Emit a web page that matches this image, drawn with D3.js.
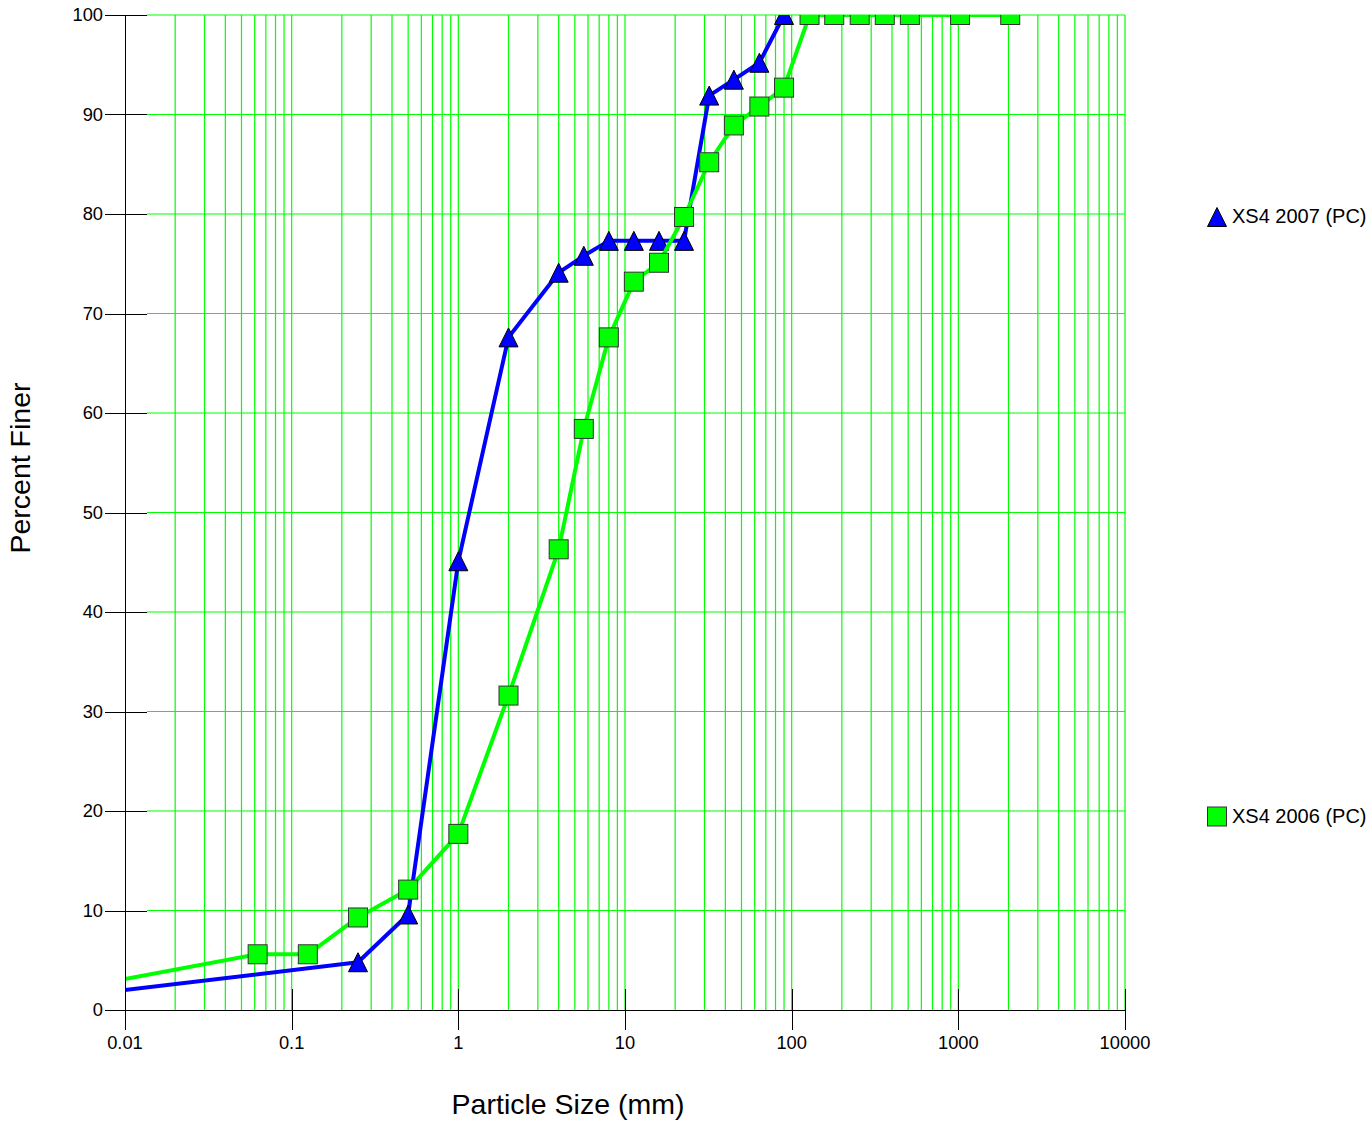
<!DOCTYPE html>
<html><head><meta charset="utf-8">
<script src="https://cdn.jsdelivr.net/npm/d3@7"></script>
<style>body{margin:0;background:#fff}svg{display:block}text{font-family:Arial,"Liberation Sans",sans-serif}</style>
</head><body>
<script>
const sizes2007 = [0.001, 0.25, 0.5, 1, 2, 4, 5.66, 8, 11.3, 16, 22.6, 32, 45, 64, 90];
const finer2007 = [0, 4.8, 9.6, 45.1, 67.6, 74.1, 75.8, 77.3, 77.3, 77.3, 77.3, 91.9, 93.5, 95.2, 100];
const sizes2006 = [0.001, 0.0625, 0.125, 0.25, 0.5, 1, 2, 4, 5.66, 8, 11.3, 16, 22.6, 32, 45, 64, 90, 128, 180, 256, 362, 512, 1024, 2048];
const finer2006 = [0, 5.6, 5.6, 9.3, 12.1, 17.7, 31.6, 46.3, 58.4, 67.6, 73.2, 75.1, 79.7, 85.2, 88.9, 90.8, 92.7, 100, 100, 100, 100, 100, 100, 100];
const xTickValues = [0.01, 0.1, 1, 10, 100, 1000, 10000];
const xTickLabels = ["0.01", "0.1", "1", "10", "100", "1000", "10000"];
const yTickValues = [0, 10, 20, 30, 40, 50, 60, 70, 80, 90, 100];
const seriesNames = ["XS4 2007 (PC)", "XS4 2006 (PC)"];

const W = 1372, H = 1131;
const L = 125, R = 1125, T = 15, B = 1010;
const svg = d3.select("body").append("svg").attr("width", W).attr("height", H);
const x = d3.scaleLog().domain([0.01, 10000]).range([L, R]);
const y = d3.scaleLinear().domain([0, 100]).range([B, T]);
const GREEN = "#00ff00";

svg.append("defs").append("clipPath").attr("id", "clip")
  .append("rect").attr("x", L).attr("y", T).attr("width", R - L).attr("height", B - T);

// grid
const minors = [];
for (let e = -2; e < 4; e++) for (let m = 1; m <= 9; m++) minors.push(m * Math.pow(10, e));
minors.push(10000);
const grid = svg.append("g");
grid.selectAll("line.v").data(minors.filter(v => v > 0.0100001)).enter().append("line").attr("class", "v")
  .attr("x1", d => x(d)).attr("x2", d => x(d))
  .attr("y1", T).attr("y2", B).attr("stroke", GREEN).attr("stroke-width", 1.2);
grid.selectAll("line.h").data(yTickValues.filter(v => v > 0)).enter().append("line").attr("class", "h")
  .attr("x1", L + 22).attr("x2", R).attr("y1", d => y(d)).attr("y2", d => y(d))
  .attr("stroke", GREEN).attr("stroke-width", 1.2);

// series
const line = d3.line().x(d => x(d[0])).y(d => y(d[1]));
const plot = svg.append("g").attr("clip-path", "url(#clip)");
const d07 = sizes2007.map((s, i) => [s, finer2007[i]]);
const d06 = sizes2006.map((s, i) => [s, finer2006[i]]);
plot.append("path").datum(d07).attr("d", line).attr("fill", "none").attr("stroke", "#0000ff").attr("stroke-width", 4).attr("stroke-linejoin", "round");
const tri = (cx, cy) => `M${cx},${cy - 9.5}L${cx + 9.5},${cy + 9.5}L${cx - 9.5},${cy + 9.5}Z`;
plot.selectAll("path.tri").data(d07).enter().append("path").attr("class", "tri")
  .attr("d", d => tri(x(d[0]), y(d[1]))).attr("fill", "#0000ff").attr("stroke", "#000").attr("stroke-width", 1);
plot.append("path").datum(d06).attr("d", line).attr("fill", "none").attr("stroke", GREEN).attr("stroke-width", 4).attr("stroke-linejoin", "round");
plot.selectAll("rect.sq").data(d06).enter().append("rect").attr("class", "sq")
  .attr("x", d => x(d[0]) - 9.5).attr("y", d => y(d[1]) - 9.5).attr("width", 19).attr("height", 19)
  .attr("fill", GREEN).attr("stroke", "#333").attr("stroke-width", 1);

// axes
const ax = svg.append("g").attr("shape-rendering", "crispEdges");
ax.append("line").attr("x1", L + 0.5).attr("x2", L + 0.5).attr("y1", T).attr("y2", B).attr("stroke", "#000");
ax.append("line").attr("x1", L).attr("x2", R).attr("y1", B + 0.5).attr("y2", B + 0.5).attr("stroke", "#000");
ax.selectAll("line.yt").data(yTickValues).enter().append("line").attr("class", "yt")
  .attr("x1", L - 20).attr("x2", L + 22).attr("y1", d => Math.round(y(d)) + 0.5).attr("y2", d => Math.round(y(d)) + 0.5).attr("stroke", "#000");
ax.selectAll("line.xt").data(xTickValues).enter().append("line").attr("class", "xt")
  .attr("x1", d => Math.round(x(d)) + 0.5).attr("x2", d => Math.round(x(d)) + 0.5).attr("y1", B - 21).attr("y2", B + 20).attr("stroke", "#000");
const lab = svg.append("g");
lab.selectAll("text.yl").data(yTickValues).enter().append("text").attr("class", "yl")
  .attr("x", L - 22).attr("y", d => y(d) + 6).attr("text-anchor", "end").attr("font-size", 18.3).attr("fill", "#000").text(d => d);
lab.selectAll("text.xl").data(xTickValues).enter().append("text").attr("class", "xl")
  .attr("x", d => x(d)).attr("y", B + 39).attr("text-anchor", "middle").attr("font-size", 18.3).attr("fill", "#000")
  .text((d, i) => xTickLabels[i]);

// axis titles
svg.append("text").attr("x", 568).attr("y", 1114).attr("text-anchor", "middle").attr("font-size", 28.5).text("Particle Size (mm)");
svg.append("text").attr("transform", "translate(30,468) rotate(-90)").attr("text-anchor", "middle").attr("font-size", 28.5).text("Percent Finer");

// legend
const lg = svg.append("g");
lg.append("path").attr("d", tri(1217, 217)).attr("fill", "#0000ff").attr("stroke", "#000");
lg.append("text").attr("x", 1232).attr("y", 223).attr("font-size", 20).text(seriesNames[0]);
lg.append("rect").attr("x", 1207.5).attr("y", 807).attr("width", 19).attr("height", 19).attr("fill", GREEN).attr("stroke", "#333");
lg.append("text").attr("x", 1232).attr("y", 823).attr("font-size", 20).text(seriesNames[1]);
</script>
</body></html>
